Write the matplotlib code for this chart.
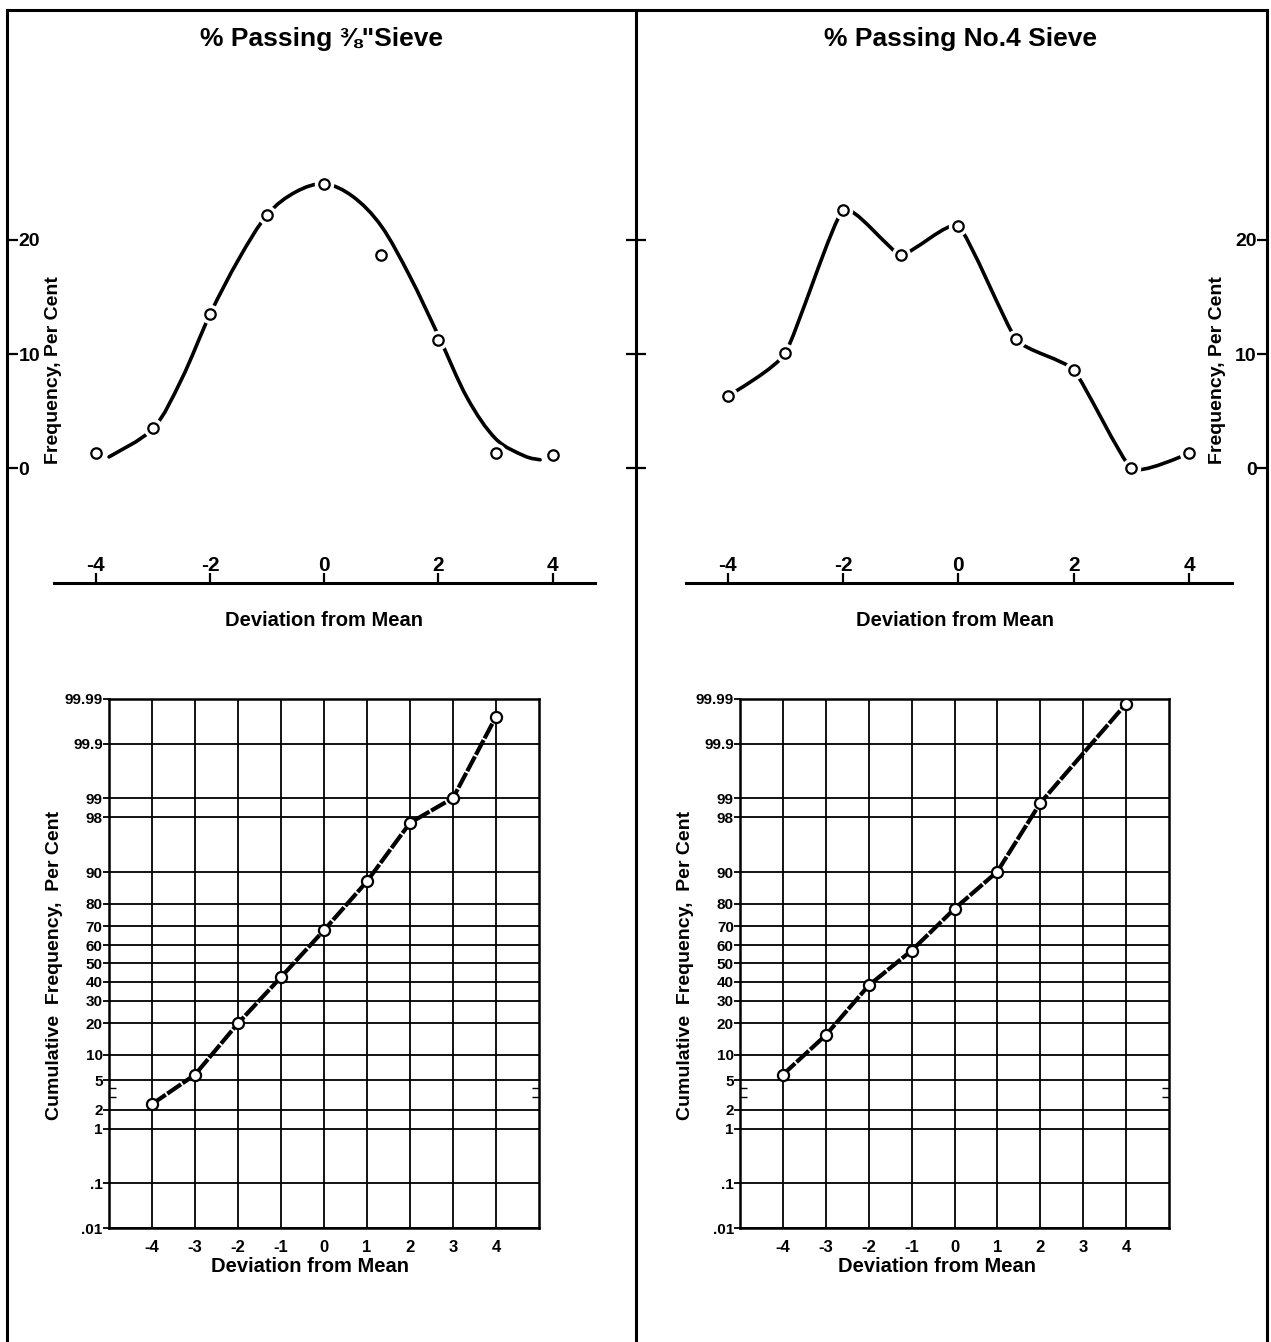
import numpy as np
import matplotlib
matplotlib.use("Agg")
import matplotlib.pyplot as plt
from matplotlib.path import Path
from matplotlib.patches import PathPatch
from matplotlib.lines import Line2D
from statistics import NormalDist

# ---- data ----
dev = [-4, -3, -2, -1, 0, 1, 2, 3, 4]

# frequency, per cent (top panels)
freq_38 = [1.3, 3.5, 13.5, 22.2, 24.9, 18.7, 11.2, 1.3, 1.2]
freq_no4 = [6.3, 10.1, 22.6, 18.7, 21.2, 11.3, 8.6, 0.0, 1.3]

# hand-drawn smooth curve for the 3/8" sieve (does not pass through every point)
curve38_x = [-3.77, -3, -2.5, -2, -1.5, -1, -0.5, 0, 0.5, 1, 1.5, 2, 2.5, 3, 3.5, 3.78]
curve38_y = [1.0, 3.5, 7.8, 13.5, 18.3, 22.2, 24.2, 24.9, 23.8, 21.2, 16.8, 11.6, 6.2, 2.6, 1.1, 0.75]

# cumulative frequency, per cent (bottom panels, normal probability paper)
cum_38_x = [-4, -3, -2, -1, 0, 1, 2, 3, 4]
cum_38 = [2.4, 5.9, 20.0, 42.4, 68.0, 87.6, 97.6, 99.0, 99.974]
cum_no4_x = [-4, -3, -2, -1, 0, 1, 2, 4]
cum_no4 = [5.9, 15.7, 37.9, 57.2, 77.9, 90.2, 98.8, 99.987]

prob_ticks = [0.01, 0.1, 1, 2, 5, 10, 20, 30, 40, 50, 60, 70, 80, 90, 98, 99, 99.9, 99.99]
prob_labels = [".01", ".1", "1", "2", "5", "10", "20", "30", "40", "50", "60", "70", "80",
               "90", "98", "99", "99.9", "99.99"]

W, H = 1271, 1342
plt.rcParams["font.family"] = ["Liberation Sans", "DejaVu Sans"]
plt.rcParams["font.weight"] = "bold"
plt.rcParams["axes.labelweight"] = "bold"
plt.rcParams["axes.titleweight"] = "bold"

nd = NormalDist()


def prob_to_z(p):
    p = np.clip(np.asarray(p, dtype=float) / 100.0, 1e-12, 1 - 1e-12)
    out = [nd.inv_cdf(v) if np.isfinite(v) else np.nan for v in p.ravel()]
    return np.array(out).reshape(p.shape)


def z_to_prob(z):
    z = np.asarray(z, dtype=float)
    out = [nd.cdf(v) * 100 if np.isfinite(v) else np.nan for v in z.ravel()]
    return np.array(out).reshape(z.shape)


def smooth_path(xs, ys, tension=1.0):
    # Catmull-Rom through the knots, drawn as cubic Bezier segments
    pts = np.column_stack([xs, ys]).astype(float)
    n = len(pts)
    verts = [pts[0]]
    codes = [Path.MOVETO]
    for i in range(n - 1):
        p0 = pts[i - 1] if i > 0 else pts[i]
        p1, p2 = pts[i], pts[i + 1]
        p3 = pts[i + 2] if i + 2 < n else pts[i + 1]
        verts += [p1 + tension * (p2 - p0) / 6, p2 - tension * (p3 - p1) / 6, p2]
        codes += [Path.CURVE4] * 3
    return Path(verts, codes)


def box(x0, y0, x1, y1):
    return [x0 / W, 1 - y1 / H, (x1 - x0) / W, (y1 - y0) / H]


fig = plt.figure(figsize=(W / 100, H / 100), dpi=100)

# ---- outer frame ----
for xs, ys in [([7, 1267], [10, 10]), ([7, 7], [10, H]), ([1267, 1267], [10, H]), ([636, 636], [10, H])]:
    fig.add_artist(Line2D([x / W for x in xs], [1 - y / H for y in ys], color="black", lw=2.2))

# ---- top panels: frequency ----
top = [
    dict(rect=box(8, 10, 636, 583), xlim=(-5.54, 5.46), title='% Passing \u215c"Sieve', tx=0.5,
         y=freq_38, cx=curve38_x, cy=curve38_y, tension=1.0, side="left", ylx=0.072, xlx=0.503),
    dict(rect=box(636, 10, 1267, 583), xlim=(-5.59, 5.35), title="% Passing No.4 Sieve", tx=0.515,
         y=freq_no4, cx=dev, cy=freq_no4, tension=0.5, side="right", ylx=0.921, xlx=0.506),
]
for p in top:
    ax = fig.add_axes(p["rect"])
    ax.set_facecolor("none")
    ax.set_xlim(*p["xlim"])
    ax.set_ylim(-10.04, 40.13)
    for s in ["top", "left", "right"]:
        ax.spines[s].set_visible(False)
    ax.spines["bottom"].set_bounds(-4.73, 4.75)
    ax.spines["bottom"].set_linewidth(2.2)

    ax.add_patch(PathPatch(smooth_path(p["cx"], p["cy"], p["tension"]), fill=False,
                           ec="black", lw=2.6, capstyle="round", zorder=2))
    ax.plot(dev, p["y"], "o", ms=13, mfc="white", mec="white", zorder=3)
    ax.plot(dev, p["y"], "o", ms=7.5, mfc="white", mec="black", mew=1.6, zorder=4)

    ax.set_xticks([-4, -2, 0, 2, 4], ["-4", "-2", "0", "2", "4"], va="bottom")
    ax.tick_params(axis="x", direction="in", length=7, width=1.6, pad=-6, labelsize=15)
    if p["side"] == "left":
        ax.set_yticks([0, 10, 20], ["0", "10", "20"], ha="left")
        ax.tick_params(axis="y", direction="in", length=7, width=1.6, left=True, right=True,
                       labelleft=True, labelright=False, pad=-7.5, labelsize=14)
    else:
        ax.set_yticks([0, 10, 20], ["0", "10", "20"], ha="right")
        ax.tick_params(axis="y", direction="in", length=7, width=1.6, left=True, right=True,
                       labelleft=False, labelright=True, pad=-7.5, labelsize=14)

    ax.set_title(p["title"], x=p["tx"], y=0.934, va="center", fontsize=19, fontweight="bold")
    ax.set_ylabel("Frequency, Per Cent", fontsize=14, rotation=90, va="center", ha="center")
    ax.yaxis.set_label_coords(p["ylx"], 0.372)
    ax.set_xlabel("Deviation from Mean", fontsize=14.5, va="center")
    ax.xaxis.set_label_coords(p["xlx"], -0.0646)

# ---- bottom panels: cumulative frequency on probability scale ----
bottom = [
    dict(rect=box(109, 699, 539, 1228), x=cum_38_x, y=cum_38, xlx=0.467),
    dict(rect=box(740, 699, 1169, 1228), x=cum_no4_x, y=cum_no4, xlx=0.459),
]
for p in bottom:
    ax = fig.add_axes(p["rect"])
    ax.set_yscale("function", functions=(prob_to_z, z_to_prob))
    ax.set_xlim(-5, 5)
    ax.set_ylim(0.01, 99.99)
    for s in ax.spines.values():
        s.set_linewidth(1.8)

    ax.set_xticks(dev, [str(v) for v in dev])
    ax.set_yticks(prob_ticks, prob_labels)
    ax.set_yticks([3, 4], minor=True)
    ax.set_yticklabels([], minor=True)
    ax.grid(True, which="major", color="black", lw=1.3)
    ax.tick_params(axis="x", length=0, pad=9, labelsize=12)
    ax.tick_params(axis="y", which="major", direction="out", length=4, width=1.3, pad=0.5, labelsize=11)
    ax.tick_params(axis="y", which="minor", direction="in", length=5, width=1.0, left=True, right=True)

    ax.plot(p["x"], p["y"], "-", color="black", lw=3, dashes=(4, 0.45), zorder=3)
    ax.plot(p["x"], p["y"], "o", ms=8, mfc="white", mec="black", mew=1.6, zorder=4)

    ax.set_ylabel("Cumulative  Frequency,  Per Cent", fontsize=14, rotation=90, va="center", ha="center")
    ax.yaxis.set_label_coords(-0.126, 0.497)
    ax.set_xlabel("Deviation from Mean", fontsize=14.5, va="center")
    ax.xaxis.set_label_coords(p["xlx"], -0.0737)

fig.savefig("out.png", dpi=100)
